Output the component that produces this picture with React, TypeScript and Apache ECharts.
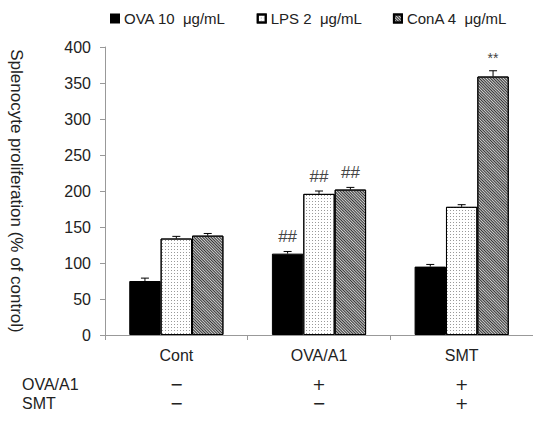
import React, { useEffect, useRef } from "react";
import * as echarts from "echarts";

const categories = ["Cont", "OVA/A1", "SMT"];
const seriesNames = ["OVA 10  μg/mL", "LPS 2  μg/mL", "ConA 4  μg/mL"];
const ovaValues = [75, 113, 95];
const lpsValues = [134, 196, 178];
const conaValues = [138, 202, 359];
const ovaErrors = [4, 3, 3];
const lpsErrors = [3, 4, 3];
const conaErrors = [3, 3, 8];
const ovaMarks = ["", "##", ""];
const lpsMarks = ["", "##", ""];
const conaMarks = ["", "##", "**"];
const rowLabels = ["OVA/A1", "SMT"];
const ovaA1Row = ["−", "+", "+"];
const smtRow = ["−", "−", "+"];
const yTicks = { min: 0, max: 400, interval: 50 };

const FONT = "'Liberation Sans', Arial, sans-serif";
const CAT_GAP = 0.34;

export default function App() {
  const ref = useRef<HTMLDivElement>(null);
  useEffect(() => {
    if (!ref.current) return;
    const chart = echarts.init(ref.current, undefined, { renderer: "svg" });
    const values = [ovaValues, lpsValues, conaValues];
    const errors = [ovaErrors, lpsErrors, conaErrors];
    const marks = [ovaMarks, lpsMarks, conaMarks];
    const errData: number[][] = [];
    const errMarks: string[] = [];
    values.forEach((vals, s) => {
      vals.forEach((v, c) => {
        errData.push([c, v, errors[s][c], s]);
        errMarks.push(marks[s][c]);
      });
    });
    const styles = [
      { color: "#000", borderColor: "#000", borderWidth: 1 },
      {
        color: "#fff",
        borderColor: "#000",
        borderWidth: 1,
        decal: {
          symbol: "rect",
          symbolSize: 1,
          dashArrayX: [1, 2],
          dashArrayY: [1, 2],
          color: "#999",
        },
      },
      {
        color: "#d0d0d0",
        borderColor: "#000",
        borderWidth: 1,
        decal: {
          symbol: "rect",
          symbolSize: 1,
          dashArrayX: [1, 0],
          dashArrayY: [1, 1],
          rotation: Math.PI / 4,
          color: "#333",
        },
      },
    ];
    const option: any = {
      animation: false,
      aria: { enabled: false, decal: { show: false } },
      legend: {
        data: seriesNames,
        left: 110,
        top: 11,
        padding: 0,
        itemWidth: 8,
        itemHeight: 8,
        itemGap: 31,
        textStyle: { fontFamily: FONT, fontSize: 15, color: "#222" },
        icon: "rect",
      },
      grid: { left: 97, top: 47, right: -8, bottom: 86, containLabel: false },
      xAxis: {
        type: "category",
        data: categories,
        axisLine: { lineStyle: { color: "#999" } },
        axisTick: { show: true, length: 5, lineStyle: { color: "#999" } },
        axisLabel: { fontFamily: FONT, fontSize: 16, color: "#222", margin: 12 },
      },
      yAxis: {
        type: "value",
        min: yTicks.min,
        max: yTicks.max,
        interval: yTicks.interval,
        name: "Splenocyte proliferation (% of control)",
        nameLocation: "middle",
        nameRotate: -90,
        nameGap: 80,
        nameTextStyle: { fontFamily: FONT, fontSize: 17, color: "#222", padding: [0, 0, 0, 0] },
        axisLine: { show: true, lineStyle: { color: "#999" } },
        axisTick: { show: true, length: 5, lineStyle: { color: "#999" } },
        splitLine: { show: false },
        axisLabel: { fontFamily: FONT, fontSize: 16, color: "#222", margin: 14 },
      },
      series: [
        ...values.map((vals, s) => ({
          name: seriesNames[s],
          type: "bar",
          data: vals,
          barGap: "0%",
          barCategoryGap: CAT_GAP * 100 + "%",
          itemStyle: styles[s],
        })),
        {
          type: "custom",
          data: errData,
          z: 10,
          encode: { x: 0, y: 1 },
          renderItem: (params: any, api: any) => {
            const cat = api.value(0);
            const val = api.value(1);
            const err = api.value(2);
            const s = api.value(3);
            const band = api.size([1, 0])[0];
            const bw = (band * (1 - CAT_GAP)) / 3;
            const base = api.coord([cat, val]);
            const x = base[0] + (s - 1) * bw;
            const top = api.coord([cat, val + err])[1];
            const mark = errMarks[params.dataIndex];
            const children: any[] = [
              { type: "line", shape: { x1: x, y1: base[1], x2: x, y2: top }, style: { stroke: "#000", lineWidth: 1 } },
              { type: "line", shape: { x1: x - 4, y1: top, x2: x + 4, y2: top }, style: { stroke: "#000", lineWidth: 1 } },
            ];
            if (mark) {
              children.push({
                type: "text",
                x,
                y: top - 6,
                style: {
                  text: mark,
                  align: "center",
                  verticalAlign: "bottom",
                  fontFamily: FONT,
                  fontSize: mark === "**" ? 14 : 17,
                  fill: "#444",
                },
              });
            }
            return { type: "group", children };
          },
        },
      ],
    };
    chart.setOption(option);
    const rows = [ovaA1Row, smtRow];
    const rowY = [384, 403];
    const graphics: any[] = [];
    rows.forEach((row, r) => {
      graphics.push({
        type: "text",
        x: 22,
        y: rowY[r],
        style: { text: rowLabels[r], fontFamily: FONT, fontSize: 16, fill: "#222", verticalAlign: "middle" },
      });
      row.forEach((sign, c) => {
        const px = chart.convertToPixel({ xAxisIndex: 0 }, categories[c]) as number;
        graphics.push({
          type: "text",
          x: px,
          y: rowY[r],
          style: { text: sign, fontFamily: "'DejaVu Sans', sans-serif", fontSize: 16, fill: "#222", align: "center", verticalAlign: "middle" },
        });
      });
    });
    chart.setOption({ graphic: graphics });
    return () => chart.dispose();
  }, []);
  return (
    <div
      ref={ref}
      style={{ position: "fixed", left: 0, top: 0, width: 533, height: 421, background: "#fff" }}
    />
  );
}
